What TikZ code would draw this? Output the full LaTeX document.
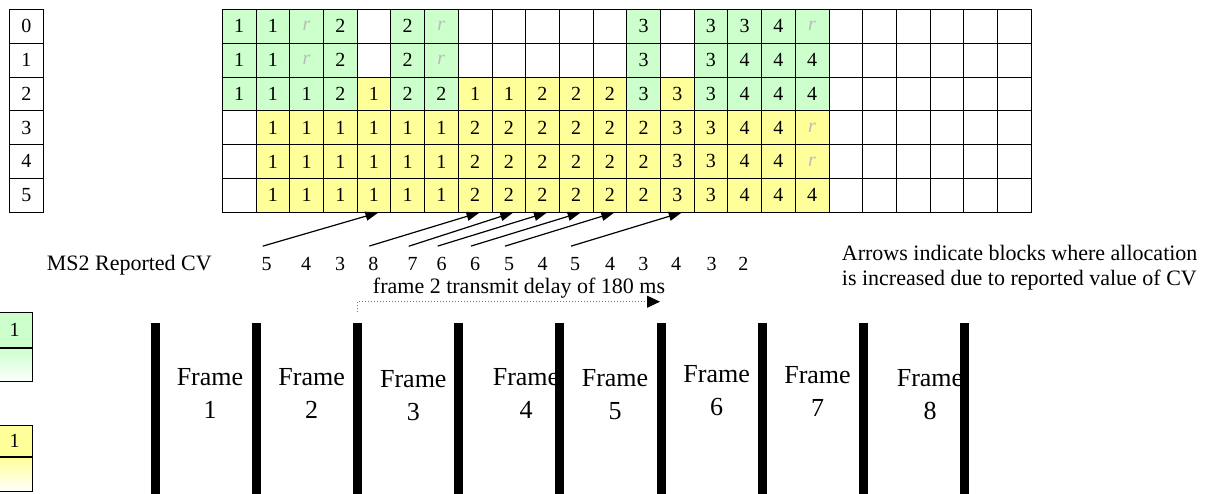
\documentclass[tikz,border=0pt]{standalone}
\usepackage{fontspec}
\setmainfont{Liberation Serif}
\usetikzlibrary{arrows.meta,positioning}
\definecolor{cg}{HTML}{CCFFCC}
\definecolor{cy}{HTML}{FFFF99}
\definecolor{cw}{HTML}{FFFFFF}
\definecolor{rgray}{HTML}{BBBBBB}
\definecolor{dotgray}{HTML}{777777}
\newcommand\rmark{\textcolor{rgray}{\itshape r}}

\begin{document}
\begin{tikzpicture}[x=1pt, y=-1pt,
  cell/.style={draw, line width=0.8pt, minimum width=33.7pt, minimum height=33.8pt,
    inner sep=0pt, font=\fontsize{20}{24}\selectfont},
  rowlabel/.style={cell, minimum width=34.7pt},
  legcell/.style={draw, line width=0.8pt, minimum width=35.3pt, inner sep=0pt,
    font=\fontsize{20}{24}\selectfont},
  cvnum/.style={inner xsep=0pt, inner ysep=11pt, font=\fontsize{20}{24}\selectfont},
  textlabel/.style={inner sep=0pt, align=left, font=\fontsize{22}{25}\selectfont},
  framelabel/.style={inner sep=0pt, align=center, font=\fontsize{26}{33}\selectfont},
  framebar/.style={fill=black, minimum width=9pt, minimum height=172pt, inner sep=0pt},
  cvarrow/.style={-{Triangle[length=13pt,width=9pt]}, line width=1.2pt},
  delayarrow/.style={-{Triangle[length=13pt,width=12pt,black]}, dotgray, dotted, line width=1pt}
]
  \useasboundingbox (0,0) rectangle (1209,493);

  \foreach \ri in {0,...,5}
    \node[rowlabel] (lbl\ri) at (26.35,{9.3+33.8*\ri+16.9}) {\ri};

  \foreach \ri/\row in {
    0/{cg/1,cg/1,cg/\rmark,cg/2,cw/{},cg/2,cg/\rmark,cw/{},cw/{},cw/{},cw/{},cw/{},cg/3,cw/{},cg/3,cg/3,cg/4,cg/\rmark},
    1/{cg/1,cg/1,cg/\rmark,cg/2,cw/{},cg/2,cg/\rmark,cw/{},cw/{},cw/{},cw/{},cw/{},cg/3,cw/{},cg/3,cg/4,cg/4,cg/4},
    2/{cg/1,cg/1,cg/1,cg/2,cy/1,cg/2,cg/2,cy/1,cy/1,cy/2,cy/2,cy/2,cg/3,cy/3,cg/3,cg/4,cg/4,cg/4},
    3/{cw/{},cy/1,cy/1,cy/1,cy/1,cy/1,cy/1,cy/2,cy/2,cy/2,cy/2,cy/2,cy/2,cy/3,cy/3,cy/4,cy/4,cy/\rmark},
    4/{cw/{},cy/1,cy/1,cy/1,cy/1,cy/1,cy/1,cy/2,cy/2,cy/2,cy/2,cy/2,cy/2,cy/3,cy/3,cy/4,cy/4,cy/\rmark},
    5/{cw/{},cy/1,cy/1,cy/1,cy/1,cy/1,cy/1,cy/2,cy/2,cy/2,cy/2,cy/2,cy/2,cy/3,cy/3,cy/4,cy/4,cy/4}}
    \foreach \fc/\txt [count=\ci from 0] in \row
      \node[cell, fill=\fc] (c\ri-\ci) at ({222.3+33.7*\ci+16.85},{9.3+33.8*\ri+16.9}) {\txt};

  \foreach \ri in {0,...,5}
    \foreach \ci in {18,...,23}
      \node[cell] (c\ri-\ci) at ({222.3+33.7*\ci+16.85},{9.3+33.8*\ri+16.9}) {};

  \node[textlabel, anchor=east] (cvlabel) at (212,265) {MS2 Reported CV};
  \foreach \x/\v [count=\k] in {266.7/5,306/4,340/3,373.3/8,412.7/7,441.7/6,475/6,509/5,
      542.7/4,575/5,610/4,643.3/3,676/4,711.7/3,743.3/2}
    \node[cvnum] (cv\k) at (\x,264) {\v};

  \foreach \s/\tc in {1/4,4/7,5/8,6/9,7/10,8/11,10/13}
    \draw[cvarrow] ([xshift=-4pt]cv\s.north) -- ([xshift=4.5pt]c5-\tc.south);

  \node[textlabel, anchor=west] (arrownote) at (841.7,267.4)
    {Arrows indicate blocks where allocation\\is increased due to reported value of CV};
  \node[textlabel] (delaylabel) at (519,288) {frame 2 transmit delay of 180 ms};

  \node[legcell, fill=cg, minimum height=34.6pt] (leggreen) at (14.65,330) {1};
  \node[legcell, top color=cg, bottom color=white, minimum height=33.7pt,
    below=0pt of leggreen] (leggreenfade) {};
  \node[legcell, fill=cy, minimum height=31pt] (legyellow) at (14.65,441.2) {1};
  \node[legcell, top color=cy, bottom color=white, minimum height=34pt,
    below=0pt of legyellow] (legyellowfade) {};

  \foreach \k/\x/\y in {1/210/393,2/311.7/393,3/413.3/396,4/526/393,
      5/615/395,6/716.7/391,7/817.5/391,8/930/395}
    \node[framelabel] (frame\k) at (\x,\y) {Frame\\\k};

  \foreach \k in {1,...,9}
    \node[framebar] (bar\k) at ({155.5+101.1*(\k-1)},409.2) {};

  \coordinate (delaystart) at ([yshift=11pt]bar3.north);
  \coordinate (delayend) at (660,301.7);
  \draw[delayarrow] (delaystart) |- (delayend);
\end{tikzpicture}
\end{document}
